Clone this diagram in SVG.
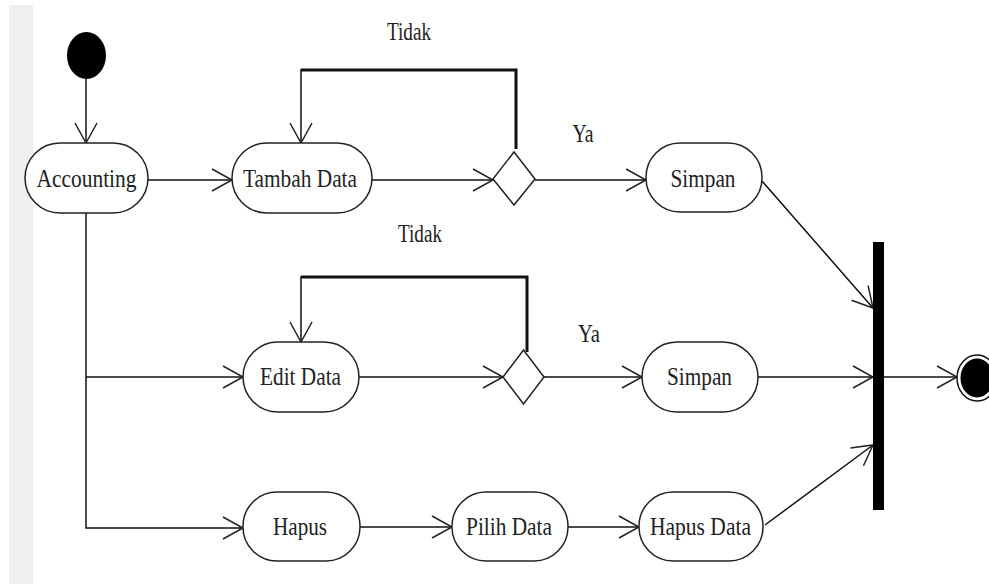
<svg xmlns="http://www.w3.org/2000/svg" width="989" height="584" viewBox="0 0 989 584">
<style>
.act{fill:#fff;stroke:#222;stroke-width:1.5}
.lbl{font-family:"Liberation Serif","Times New Roman",serif;font-size:25px;fill:#222;text-anchor:middle}
.cn{fill:none;stroke:#111;stroke-width:1.5}
.thick{fill:none;stroke:#111;stroke-width:3}
</style>
<defs>
<marker id="arr" markerUnits="userSpaceOnUse" markerWidth="24" markerHeight="26" refX="22" refY="12" orient="auto" viewBox="0 0 24 24">
<path d="M2,1 L22,12 L2,23" fill="none" stroke="#222" stroke-width="1.5"/>
</marker>
</defs>
<rect x="9" y="5" width="24" height="579" fill="#efefef"/>

<g id="connectors">
<line class="cn" x1="86" y1="79" x2="86" y2="143" marker-end="url(#arr)"/>
<line class="cn" x1="148" y1="180" x2="232" y2="180" marker-end="url(#arr)"/>
<line class="cn" x1="372" y1="180" x2="493" y2="180" marker-end="url(#arr)"/>
<polyline class="thick" points="516,149 516,70 301,70"/>
<line class="cn" x1="301" y1="69" x2="301" y2="143" marker-end="url(#arr)"/>
<line class="cn" x1="535" y1="180" x2="646" y2="180" marker-end="url(#arr)"/>
<line class="cn" x1="762" y1="181" x2="873" y2="308" marker-end="url(#arr)"/>
<polyline class="cn" points="86,213 86,528 243,528" marker-end="url(#arr)"/>
<line class="cn" x1="86" y1="377" x2="243" y2="377" marker-end="url(#arr)"/>
<line class="cn" x1="359" y1="377" x2="503" y2="377" marker-end="url(#arr)"/>
<polyline class="thick" points="527,352 527,277 301,277"/>
<line class="cn" x1="301" y1="276" x2="301" y2="342" marker-end="url(#arr)"/>
<line class="cn" x1="544" y1="377" x2="642" y2="377" marker-end="url(#arr)"/>
<line class="cn" x1="758" y1="377" x2="873" y2="377" marker-end="url(#arr)"/>
<line class="cn" x1="884" y1="377" x2="957" y2="377" marker-end="url(#arr)"/>
<line class="cn" x1="360" y1="527" x2="452" y2="527" marker-end="url(#arr)"/>
<line class="cn" x1="568" y1="527" x2="639" y2="527" marker-end="url(#arr)"/>
<line class="cn" x1="765" y1="525" x2="873" y2="445" marker-end="url(#arr)"/>
<text class="lbl" x="409" y="40" textLength="44" lengthAdjust="spacingAndGlyphs">Tidak</text>
<text class="lbl" x="583" y="142" textLength="21" lengthAdjust="spacingAndGlyphs">Ya</text>
<text class="lbl" x="420" y="242" textLength="44" lengthAdjust="spacingAndGlyphs">Tidak</text>
<text class="lbl" x="589" y="342" textLength="22" lengthAdjust="spacingAndGlyphs">Ya</text>
</g>

<g id="start">
<ellipse cx="86.5" cy="55.5" rx="19.5" ry="23.5" fill="#000"/>
</g>
<g id="accounting">
<rect class="act" x="25" y="143" width="123" height="70" rx="35" ry="35"/>
<text class="lbl" x="86.5" y="187" textLength="100" lengthAdjust="spacingAndGlyphs">Accounting</text>
</g>
<g id="tambah-data">
<rect class="act" x="232" y="143" width="140" height="70" rx="35" ry="35"/>
<text class="lbl" x="300" y="187" textLength="114" lengthAdjust="spacingAndGlyphs">Tambah Data</text>
</g>
<g id="decision1">
<polygon class="act" points="514,152 535,179 514,205 493,179"/>
</g>
<g id="simpan1">
<rect class="act" x="646" y="143" width="116" height="69" rx="34" ry="34"/>
<text class="lbl" x="703" y="187" textLength="65" lengthAdjust="spacingAndGlyphs">Simpan</text>
</g>
<g id="edit-data">
<rect class="act" x="243" y="342" width="116" height="70" rx="35" ry="35"/>
<text class="lbl" x="300.5" y="385" textLength="81" lengthAdjust="spacingAndGlyphs">Edit Data</text>
</g>
<g id="decision2">
<polygon class="act" points="523.5,350 544,377 523.5,404 503,377"/>
</g>
<g id="simpan2">
<rect class="act" x="642" y="342" width="116" height="70" rx="35" ry="35"/>
<text class="lbl" x="699.5" y="385" textLength="65" lengthAdjust="spacingAndGlyphs">Simpan</text>
</g>
<g id="hapus">
<rect class="act" x="243" y="492" width="117" height="69" rx="34" ry="34"/>
<text class="lbl" x="300" y="535" textLength="54" lengthAdjust="spacingAndGlyphs">Hapus</text>
</g>
<g id="pilih-data">
<rect class="act" x="452" y="492" width="116" height="69" rx="34" ry="34"/>
<text class="lbl" x="509" y="535" textLength="86" lengthAdjust="spacingAndGlyphs">Pilih Data</text>
</g>
<g id="hapus-data">
<rect class="act" x="639" y="492" width="124" height="69" rx="34" ry="34"/>
<text class="lbl" x="700.5" y="535" textLength="101" lengthAdjust="spacingAndGlyphs">Hapus Data</text>
</g>
<g id="join-bar">
<rect x="873" y="242" width="11" height="268" fill="#000"/>
</g>
<g id="end">
<ellipse cx="977" cy="378" rx="20" ry="23" fill="#fff" stroke="#111" stroke-width="1.5"/>
<ellipse cx="977" cy="378" rx="16.5" ry="19.5" fill="#000"/>
</g>
</svg>
